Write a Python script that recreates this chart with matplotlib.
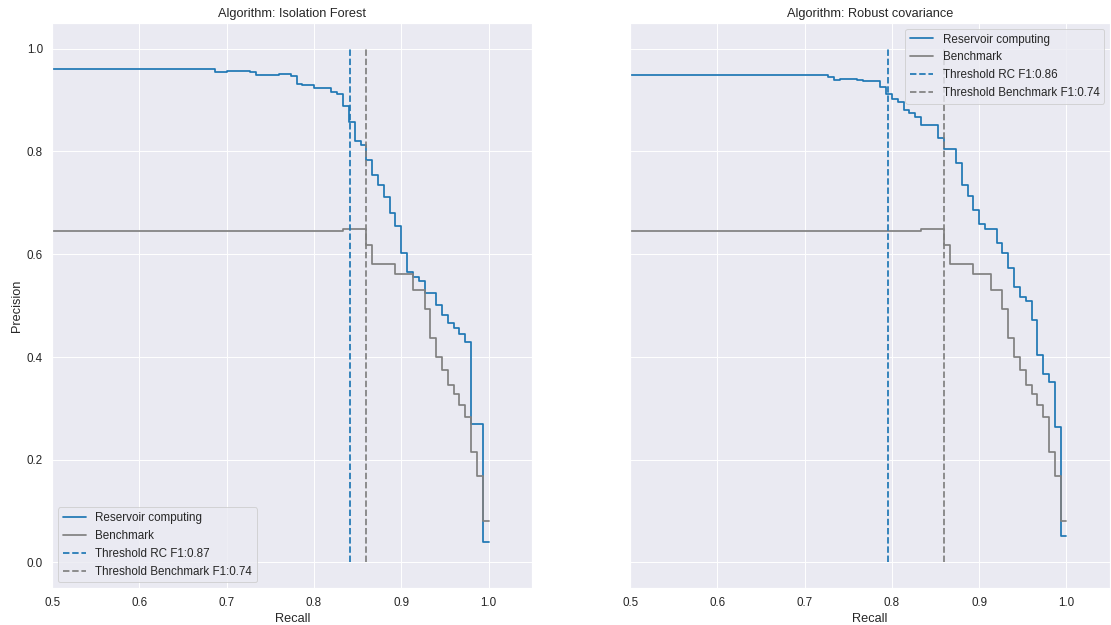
import matplotlib

matplotlib.use("Agg")
import matplotlib.pyplot as plt
import seaborn as sns

# precision / recall breakpoints (recall grid of k/150)
bench_recall = [0.0, 125 / 150, 129 / 150, 130 / 150, 134 / 150, 137 / 150, 139 / 150,
                140 / 150, 141 / 150, 142 / 150, 143 / 150, 144 / 150, 145 / 150,
                146 / 150, 147 / 150, 148 / 150, 149 / 150, 1.0]
bench_precision = [0.646, 0.650, 0.618, 0.581, 0.561, 0.531, 0.494, 0.437, 0.399,
                   0.375, 0.345, 0.327, 0.306, 0.283, 0.215, 0.168, 0.081, 0.081]

iso_recall = [0.0, 103 / 150, 105 / 150, 109 / 150, 110 / 150, 114 / 150, 116 / 150,
              117 / 150, 118 / 150, 120 / 150, 123 / 150, 124 / 150, 125 / 150,
              126 / 150, 127 / 150, 128 / 150, 129 / 150, 130 / 150, 131 / 150,
              132 / 150, 133 / 150, 134 / 150, 135 / 150, 136 / 150, 137 / 150,
              138 / 150, 139 / 150, 141 / 150, 142 / 150, 143 / 150, 144 / 150,
              145 / 150, 146 / 150, 147 / 150, 149 / 150, 1.0]
iso_precision = [0.960, 0.955, 0.956, 0.954, 0.949, 0.951, 0.947, 0.932, 0.929, 0.924,
                 0.915, 0.911, 0.888, 0.857, 0.821, 0.812, 0.784, 0.754, 0.734, 0.711,
                 0.681, 0.654, 0.602, 0.565, 0.556, 0.548, 0.525, 0.502, 0.481, 0.467,
                 0.457, 0.444, 0.429, 0.270, 0.040, 0.040]

cov_recall = [0.0, 109 / 150, 110 / 150, 111 / 150, 114 / 150, 115 / 150, 118 / 150,
              119 / 150, 120 / 150, 121 / 150, 122 / 150, 123 / 150, 124 / 150,
              125 / 150, 128 / 150, 129 / 150, 131 / 150, 132 / 150, 133 / 150,
              134 / 150, 135 / 150, 136 / 150, 138 / 150, 139 / 150, 140 / 150,
              141 / 150, 142 / 150, 143 / 150, 144 / 150, 145 / 150, 146 / 150,
              147 / 150, 148 / 150, 149 / 150, 1.0]
cov_precision = [0.948, 0.945, 0.940, 0.942, 0.940, 0.937, 0.925, 0.912, 0.903, 0.896,
                 0.880, 0.875, 0.867, 0.852, 0.827, 0.805, 0.778, 0.734, 0.714, 0.686,
                 0.658, 0.649, 0.621, 0.603, 0.573, 0.537, 0.516, 0.508, 0.472, 0.404,
                 0.367, 0.352, 0.263, 0.051, 0.051]

panels = [
    ("Isolation Forest", iso_recall, iso_precision, 0.841, 0.87, "lower left"),
    ("Robust covariance", cov_recall, cov_precision, 0.795, 0.86, "upper right"),
]
bench_threshold = 0.860
bench_f1 = 0.74

sns.set_theme(font_scale=1.1)
plt.rcParams["font.family"] = ["Liberation Sans", "DejaVu Sans"]
plt.rcParams["lines.linewidth"] = 1.8

fig, axes = plt.subplots(1, 2, figsize=(16, 9), sharey=True)
fig.subplots_adjust(left=0.047, right=0.999, bottom=0.059, top=0.963, wspace=0.204)

for ax, (name, recall, precision, thr, f1, loc) in zip(axes, panels):
    ax.step(recall, precision, where="post", color="tab:blue", label="Reservoir computing")
    ax.step(bench_recall, bench_precision, where="post", color="gray", label="Benchmark")
    ax.vlines(thr, 0, 1, colors="tab:blue", linestyles="--", linewidth=1.8,
              label=f"Threshold RC F1:{f1:.2f}")
    ax.vlines(bench_threshold, 0, 1, colors="gray", linestyles="--", linewidth=1.8,
              label=f"Threshold Benchmark F1:{bench_f1:.2f}")
    ax.set_xlim(0.5, 1.05)
    ax.set_ylim(-0.05, 1.05)
    ax.set_xlabel("Recall")
    ax.set_title(f"Algorithm: {name}")
    ax.legend(loc=loc)

axes[0].set_ylabel("Precision")

fig.savefig("out.png", dpi=69.45)
